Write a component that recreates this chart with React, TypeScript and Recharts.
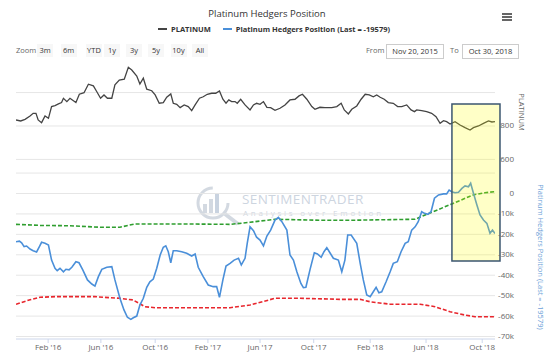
import React from 'react';
import { ComposedChart, Line, XAxis, YAxis, ReferenceLine, ReferenceArea } from 'recharts';

const FONT = '"Open Sans", "DejaVu Sans", sans-serif';

// x values are weeks since Nov 20, 2015 (one COT report per week, ordinal axis)
const tickWeeks = [10.3, 27.2, 44.6, 61.5, 78.2, 95.4, 113.5, 131.4, 149.4];
const tickLabels = ["Feb '16", "Jun '16", "Oct '16", "Feb '17", "Jun '17", "Oct '17", "Feb '18", "Jun '18", "Oct '18"];

const hedgerWeeks = [
  0, 1.1, 1.8, 2.6, 3.4, 4.5, 5.5, 6.6, 7.5, 8.2, 9.3, 10.4, 11.4, 12.5, 13.2, 14.1, 15.2, 16.0, 17.0, 17.9,
  19.2, 20.2, 21.4, 22.9, 24.3, 25.3, 26.4, 27.5, 29.1, 30.7, 31.7, 33.3, 34.6, 35.7, 36.8, 37.6, 38.7, 39.7,
  40.8, 41.9, 42.9, 44.0, 45.1, 46.2, 47.2, 48.0, 48.8, 49.6, 50.4, 51.5, 53.1, 54.7, 56.3, 57.4, 58.4, 60.0,
  61.6, 63.2, 64.3, 65.2, 66.3, 67.3, 68.6, 69.9, 71.3, 72.2, 73.4, 74.1, 75.0, 76.1, 77.1, 78.2, 79.3, 80.4,
  81.6, 83.0, 84.1, 85.2, 86.8, 87.8, 88.9, 90.0, 91.3, 92.1, 92.9, 94.2, 95.6, 96.6, 97.8, 98.7, 99.6, 100.6,
  101.7, 103.3, 104.4, 105.4, 106.3, 107.4, 109.2, 110.3, 111.3, 112.4, 113.5, 114.5, 115.4, 116.3, 117.2,
  118.6, 119.9, 120.9, 122.2, 123.4, 124.7, 125.7, 126.8, 127.9, 128.9, 130.0, 130.9, 132.0, 133.0, 134.1,
  135.4, 137.0, 138.0, 138.8, 139.6, 140.7, 141.8, 142.9, 143.9, 145.0, 145.7, 146.6, 147.7, 148.7, 149.8,
  150.9, 151.9, 152.7, 153.5,
];
const hedgerValues = [
  -23600, -23300, -24100, -26000, -25700, -27200, -28000, -28600, -26000, -23900, -24400, -25200, -32600,
  -36600, -37800, -36600, -38300, -37100, -37400, -36100, -33400, -33900, -37400, -42300, -44300, -45300,
  -40700, -37100, -36100, -35800, -42300, -51300, -57000, -60600, -61600, -60800, -60000, -54600, -51300,
  -45900, -43200, -41900, -36600, -30100, -26300, -25600, -28500, -33900, -28000, -28000, -28500, -29300,
  -30600, -29600, -36100, -40700, -44800, -45600, -45600, -50800, -42300, -35500, -34200, -32600, -31700,
  -35000, -31700, -24400, -16300, -18200, -21400, -22800, -25600, -20800, -17900, -13000, -11700, -13800,
  -17900, -30100, -32600, -38300, -44000, -46100, -45900, -37400, -29000, -29600, -31200, -28500, -26500,
  -29000, -31700, -32600, -38300, -32600, -20300, -20300, -24400, -34200, -42300, -49700, -50500, -48100,
  -45900, -48600, -48100, -43200, -38300, -34200, -33400, -28500, -24400, -23600, -17900, -16300, -13800,
  -8900, -9700, -10200, -8900, -2300, -700, -200, -200, 1700, 900, 400, 600, 2500, 3700, 3300, 5000, 100,
  -5600, -10500, -13000, -14600, -19500, -17900, -19579,
];

const platinumWeeks = [
  0, 1.5, 2.9, 4.5, 5.5, 6.4, 7.1, 8.2, 9.3, 10.4, 11.4, 12.5, 13.6, 14.6, 15.2, 16.3, 17.3, 18.4, 19.2, 20.3,
  21.8, 23.2, 24.8, 25.9, 27.1, 28.2, 29.3, 30.7, 31.7, 33.1, 34.7, 36.0, 37.1, 38.7, 39.7, 40.8, 41.9, 43.5,
  44.6, 45.9, 47.2, 48.3, 49.6, 50.4, 51.5, 52.6, 53.9, 55.2, 56.3, 57.4, 58.8, 60.0, 61.3, 62.7, 64.0, 65.2,
  66.3, 67.3, 68.2, 69.1, 70.2, 70.9, 72.0, 73.4, 75.0, 76.1, 77.1, 78.2, 79.3, 80.4, 81.6, 83.0, 84.6, 86.2,
  87.8, 89.4, 90.7, 91.8, 93.2, 94.8, 95.8, 97.4, 99.0, 101.2, 102.8, 104.2, 105.2, 106.5, 107.6, 109.2,
  110.6, 111.9, 113.2, 114.5, 115.6, 116.7, 118.0, 119.3, 120.9, 122.3, 123.6, 125.2, 126.6, 127.7, 128.4,
  130.0, 131.6, 133.2, 134.6, 135.9, 137.0, 138.0, 139.1, 140.7, 142.3, 143.9, 145.5, 146.6, 148.2, 149.8,
  151.4, 152.5, 153.5,
];
const platinumValues = [
  836, 830, 840, 860, 876, 876, 836, 820, 860, 846, 916, 922, 932, 940, 966, 946, 966, 951, 940, 990, 999,
  1050, 1040, 1005, 966, 986, 966, 966, 1046, 1075, 1080, 1151, 1135, 1099, 1051, 1086, 1020, 1011, 986, 936,
  940, 972, 992, 936, 930, 910, 926, 916, 892, 926, 966, 975, 990, 996, 996, 1010, 960, 936, 956, 946, 946,
  936, 960, 926, 896, 926, 936, 930, 946, 912, 910, 894, 906, 926, 956, 960, 980, 990, 960, 916, 900, 912,
  910, 910, 916, 936, 896, 872, 900, 920, 960, 990, 986, 975, 986, 972, 960, 940, 936, 916, 916, 926, 896,
  886, 896, 892, 886, 876, 856, 816, 832, 826, 812, 826, 806, 790, 776, 790, 800, 816, 830, 824, 826,
];

const upperWeeks = [0, 7.7, 17.3, 26.9, 33.3, 38.1, 52.6, 68.6, 75.0, 83.0, 97.4, 107.1, 127.9, 131.1, 139.7, 146.5, 150.3, 153.5];
const upperValues = [-15100, -15600, -15800, -16500, -16500, -14900, -14900, -15100, -14100, -12600, -13100, -13100, -12600, -10500, -5100, -700, 400, 900];

const lowerWeeks = [0, 4.5, 7.7, 12.5, 25.3, 33.3, 37.5, 41.3, 44.6, 68.6, 75.0, 83.0, 91.0, 103.8, 110.3, 113.5, 119.9, 129.5, 134.3, 139.1, 143.9, 147.1, 153.5];
const lowerValues = [-54200, -52000, -50800, -50500, -50500, -51300, -52100, -55400, -55900, -55900, -54600, -51300, -51300, -51800, -51800, -53000, -54200, -54200, -55400, -57900, -59500, -60300, -60300];

const hedgerTicks = [-70000, -60000, -50000, -40000, -30000, -20000, -10000, 0];
const hedgerGrid = [10000, ...hedgerTicks];
const platinumTicks = [600, 800];
const platinumGrid = [600, 800, 1000];
const rangeButtons = ['3m', '6m', 'YTD', '1y', '3y', '5y', '10y', 'All'];
const rangeCenters = [45, 68.5, 94, 112, 134, 156, 178.5, 200];

const zip = (xs: number[], ys: number[]) => xs.map((w, i) => ({ w, v: ys[i] }));
const hedgerData = zip(hedgerWeeks, hedgerValues);
const platinumData = zip(platinumWeeks, platinumValues);
const upperData = zip(upperWeeks, upperValues);
const lowerData = zip(lowerWeeks, lowerValues);

const fmtK = (v: number) => (v === 0 ? '0' : `${v / 1000}k`);

function RightTick({ y, payload, fmt }: any) {
  return (
    <text x={514} y={y} dy={2.5} textAnchor="end" fontSize={8} fill="#666" fontFamily={FONT}>
      {fmt(payload.value)}
    </text>
  );
}

function Watermark() {
  return (
    <svg width={200} height={50} style={{ position: 'absolute', left: 188, top: 182, zIndex: 0 }}>
      <circle cx={25} cy={21} r={15} fill="none" stroke="#d3d9e1" strokeWidth={3} strokeDasharray="70 24" />
      <rect x={15} y={22} width={4} height={9} fill="#d3d9e1" />
      <rect x={21} y={17} width={4} height={14} fill="#d3d9e1" />
      <rect x={27} y={12} width={4} height={19} fill="#c9d3e0" />
      <line x1={37} y1={32} x2={50} y2={42} stroke="#d3d9e1" strokeWidth={4} />
      <text x={54} y={22} fontSize={13.5} fill="#cdd5df" fontFamily={FONT} letterSpacing={0.4}>SENTIMENTRADER</text>
      <text x={55} y={34} fontSize={8} fill="#cfd6df" fontFamily={FONT} letterSpacing={2.8}>Analysis over Emotion</text>
    </svg>
  );
}

export default function App() {
  const small = { fontFamily: FONT, fontSize: 7.5, position: 'absolute' as const, whiteSpace: 'nowrap' as const };
  return (
    <div style={{ position: 'absolute', left: 0, top: 0, width: 550, height: 360, background: '#fff', fontFamily: FONT }}>
      <div style={{ ...small, fontSize: 9.5, color: '#333', left: 0, width: 534, top: 7, textAlign: 'center' }}>
        Platinum Hedgers Position
      </div>
      <div style={{ position: 'absolute', left: 502, top: 13 }}>
        {[0, 3, 6].map((d) => (
          <div key={d} style={{ position: 'absolute', top: d, width: 10, height: 1.5, background: '#666' }} />
        ))}
      </div>
      <div style={{ ...small, top: 24, left: 158, fontWeight: 700, color: '#333', display: 'flex', alignItems: 'center' }}>
        <span style={{ display: 'inline-block', width: 9, height: 1.5, background: '#444', marginRight: 4 }} />
        PLATINUM
        <span style={{ display: 'inline-block', width: 9, height: 1.5, background: '#4a8fd9', marginLeft: 12, marginRight: 4 }} />
        Platinum Hedgers Position (Last = -19579)
      </div>
      <div style={{ ...small, top: 45, left: 16, color: '#666' }}>Zoom</div>
      {rangeButtons.map((b, i) => (
        <div
          key={b}
          style={{ ...small, top: 44, left: rangeCenters[i] - 8, width: 16, height: 13, lineHeight: '13px', textAlign: 'center', background: '#f7f7f7', color: '#333' }}
        >
          {b}
        </div>
      ))}
      <div style={{ ...small, top: 45, left: 366, color: '#666' }}>From</div>
      <div style={{ ...small, top: 44, left: 386, width: 56, height: 13, lineHeight: '13px', border: '1px solid #ccc', textAlign: 'center', color: '#333' }}>
        Nov 20, 2015
      </div>
      <div style={{ ...small, top: 45, left: 450, color: '#666' }}>To</div>
      <div style={{ ...small, top: 44, left: 462, width: 55, height: 13, lineHeight: '13px', border: '1px solid #ccc', textAlign: 'center', color: '#333' }}>
        Oct 30, 2018
      </div>
      <Watermark />
      <div style={{ position: 'absolute', left: 0, top: 0, zIndex: 1 }}>
        <ComposedChart width={550} height={360} margin={{ top: 62, right: 15, bottom: 0, left: 16 }}>
          <XAxis
            dataKey="w"
            type="number"
            domain={[0, 153.5]}
            allowDataOverflow
            ticks={tickWeeks}
            interval={0}
            tickFormatter={(v: number) => tickLabels[tickWeeks.indexOf(v)]}
            height={21}
            stroke="#ccd6eb"
            tick={{ fontSize: 8, fill: '#666', fontFamily: FONT }}
            tickSize={4}
            tickMargin={1}
          />
          <YAxis
            yAxisId="p"
            orientation="right"
            domain={[-475, 1183]}
            allowDataOverflow
            ticks={platinumTicks}
            interval={0}
            width={20}
            axisLine={false}
            tickLine={false}
            tick={(p: any) => <RightTick {...p} fmt={(v: number) => String(v)} />}
          />
          <YAxis
            yAxisId="h"
            orientation="right"
            domain={[-71220, 64370]}
            allowDataOverflow
            ticks={hedgerTicks}
            interval={0}
            width={20}
            axisLine={false}
            tickLine={false}
            tick={(p: any) => <RightTick {...p} fmt={fmtK} />}
          />
          {platinumGrid.map((g) => (
            <ReferenceLine key={`p${g}`} yAxisId="p" y={g} stroke="#e6e6e6" />
          ))}
          {hedgerGrid.map((g) => (
            <ReferenceLine key={`h${g}`} yAxisId="h" y={g} stroke="#e6e6e6" />
          ))}
          <Line data={upperData} dataKey="v" yAxisId="h" stroke="#2f9e2f" strokeWidth={1.6} strokeDasharray="4 2" dot={false} isAnimationActive={false} />
          <Line data={lowerData} dataKey="v" yAxisId="h" stroke="#e8262d" strokeWidth={1.6} strokeDasharray="4 2" dot={false} isAnimationActive={false} />
          <Line data={platinumData} dataKey="v" yAxisId="p" stroke="#444" strokeWidth={1.3} dot={false} isAnimationActive={false} />
          <Line data={hedgerData} dataKey="v" yAxisId="h" stroke="#4a8fd9" strokeWidth={1.6} dot={false} isAnimationActive={false} />
          <ReferenceArea
            yAxisId="h"
            x1={139.7}
            x2={155.1}
            y1={-33000}
            y2={43800}
            ifOverflow="visible"
            fill="#ffff00"
            fillOpacity={0.22}
            stroke="#3b5670"
            strokeWidth={1.5}
            zIndex={1000}
          />
        </ComposedChart>
      </div>
      <div style={{ ...small, fontSize: 7.5, color: '#666', left: 522, top: 112, transform: 'translate(-50%, -50%)', writingMode: 'vertical-rl' }}>
        PLATINUM
      </div>
      <div style={{ ...small, fontSize: 7.5, color: '#6d9fd8', left: 541, top: 257, transform: 'translate(-50%, -50%)', writingMode: 'vertical-rl' }}>
        Platinum Hedgers Position (Last = -19579)
      </div>
    </div>
  );
}
